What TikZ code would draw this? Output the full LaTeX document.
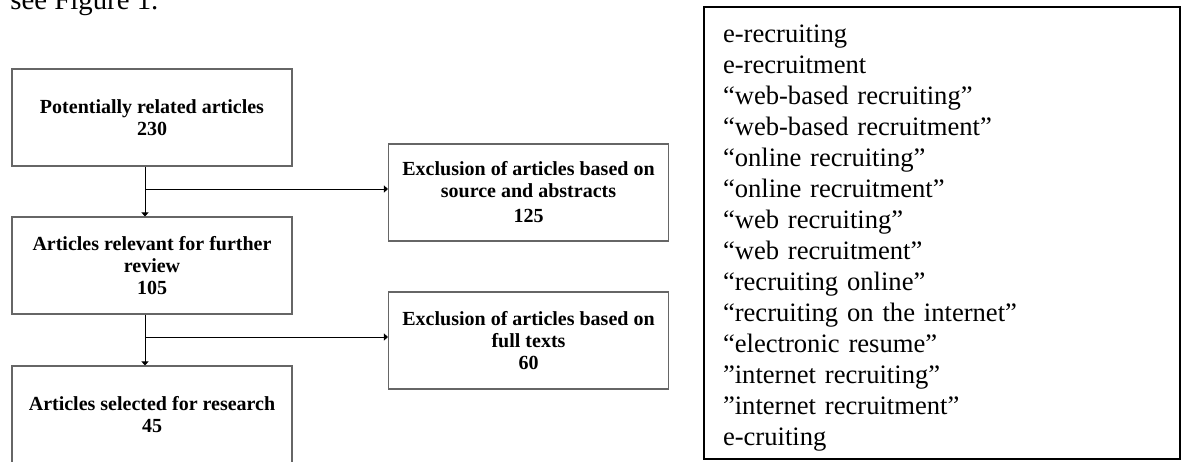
\documentclass[tikz,border=0pt]{standalone}
\usepackage{fontspec}
\setmainfont{Liberation Serif}
\usetikzlibrary{arrows.meta,positioning,calc}
\tikzset{
  >={Triangle[length=2pt,width=3.6pt]},
  stagebox/.style={draw=black!60,line width=0.6pt,minimum width=140pt,minimum height=48.5pt,inner sep=2pt,align=center,font=\bfseries\fontsize{10}{11}\selectfont},
  termbox/.style={draw=black,line width=1pt,text width=219pt,inner xsep=9.5pt,inner ysep=0pt,minimum height=226pt,align=left,font=\fontsize{13.3}{15.5}\selectfont},
  arr/.style={->,draw=black,line width=0.5pt},
}

\begin{document}
\begin{tikzpicture}[x=0.5pt,y=-0.5pt]
\clip (0,0) rectangle (1181,461);
\node[anchor=base west,inner sep=0pt,font=\fontsize{14.4}{16}\selectfont] (lead) at (10,9) {see Figure 1.};
% left column
\node[stagebox] (pot) at (152,117.5) {Potentially related articles\\230};
\node[stagebox] (rel) at (152,265.5) {Articles relevant for further\\review\\105};
\node[stagebox] (sel) at (152,414.5) {Articles selected for research\\45};
% exclusions
\node[stagebox] (exa) at (528.5,192.5) {Exclusion of articles based on\\source and abstracts\\[1.5pt]125};
\node[stagebox] (exf) at (528.5,340.5) {Exclusion of articles based on\\full texts\\60};
% search terms
\node[termbox] (terms) at (942,233) {\rule{0pt}{14pt}e-recruiting\\
e-recruitment\\
“web-based recruiting”\\
“web-based recruitment”\\
“online recruiting”\\
“online recruitment”\\
“web recruiting”\\
“web recruitment”\\
“recruiting online”\\
“recruiting on the internet”\\
“electronic resume”\\
”internet recruiting”\\
”internet recruitment”\\
e-cruiting};
% connectors
\coordinate (b1) at (145,189);
\coordinate (b2) at (145,337);
\draw[arr] ([xshift=-3.5pt]pot.south) -- ([xshift=-3.5pt]rel.north);
\draw[arr] (b1) -- (b1 -| exa.west);
\draw[arr] ([xshift=-3.5pt]rel.south) -- ([xshift=-3.5pt]sel.north);
\draw[arr] (b2) -- (b2 -| exf.west);
\end{tikzpicture}
\end{document}
